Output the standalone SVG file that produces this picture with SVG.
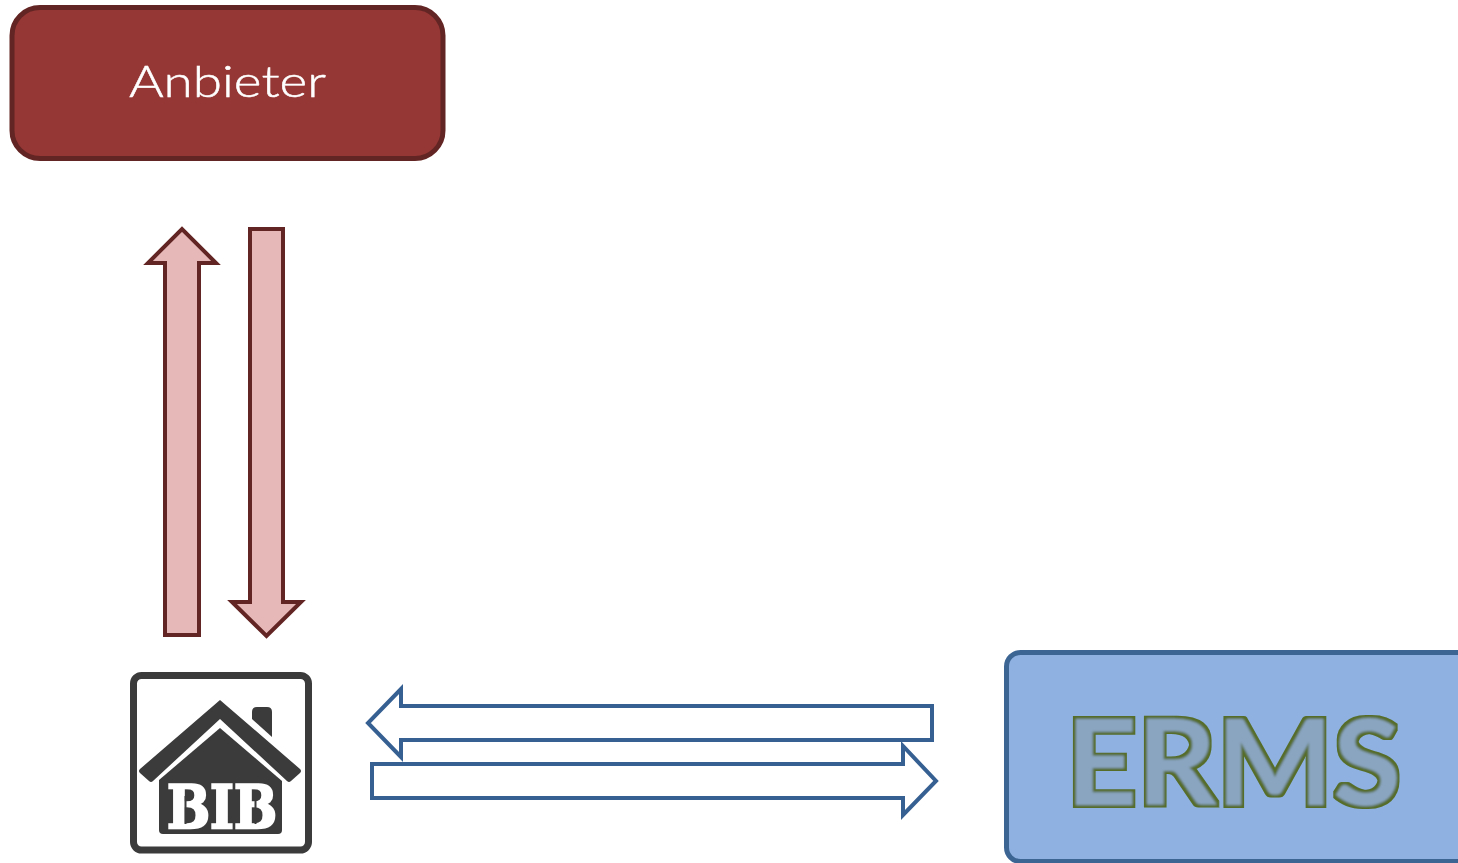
<svg xmlns="http://www.w3.org/2000/svg" width="1458" height="863" viewBox="0 0 1458 863">
<defs>
<style>
.red{fill:#e6b9b8;stroke:#632523;stroke-width:4}
.blue{fill:#fff;stroke:#376092;stroke-width:4}
.dark{fill:#3b3b3b}
</style>
<filter id="soft" x="-5%" y="-5%" width="110%" height="110%"><feGaussianBlur stdDeviation="0.5"/></filter>
<filter id="outline" x="-5%" y="-10%" width="110%" height="120%">
<feMorphology in="SourceAlpha" operator="dilate" radius="3" result="o"/>
<feGaussianBlur in="o" stdDeviation="0.7" result="ob"/>
<feFlood flood-color="#566d2b"/>
<feComposite in2="ob" operator="in" result="green"/>
<feGaussianBlur in="SourceAlpha" stdDeviation="0.900" result="ib"/>
<feFlood flood-color="#8aa5c0"/>
<feComposite in2="ib" operator="in" result="body"/>
<feMerge><feMergeNode in="green"/><feMergeNode in="body"/></feMerge>
</filter>
</defs>
<rect width="1458" height="863" fill="#fff"/>
<g id="anbieter">
<rect x="12" y="7.500" width="431" height="151" rx="28" fill="#953735" stroke="#632523" stroke-width="5"/>
<text x="129" y="97" font-family="Lato, Liberation Sans, sans-serif" font-weight="300" font-size="44" fill="#fff" stroke="#fff" stroke-width="0.500" textLength="197" lengthAdjust="spacingAndGlyphs">Anbieter</text>
</g>
<g id="bib">
<rect x="133.500" y="675.500" width="175" height="174.500" rx="8" fill="#fff" stroke="#3b3b3b" stroke-width="7"/>
<g filter="url(#soft)">
<path class="dark" d="M252 712Q252 707 257 707H267Q272 707 272 712V737L252 719Z"/>
<path class="dark" d="M220 700L300 769Q302 771 300 773L291 781Q289 783 287 781L220 719L153 781Q151 783 149 781L140 773Q138 771 140 769Z"/>
<path class="dark" d="M220 728L282 781V830Q282 834 278 834H163Q159 834 159 830V780Z"/>
<text x="167" y="828" font-family="DejaVu Serif, serif" font-weight="700" font-size="60" fill="#fff" stroke="#fff" stroke-width="2.500" textLength="110" lengthAdjust="spacingAndGlyphs">BIB</text>
<rect x="184.500" y="796" width="2" height="28" class="dark"/>
<rect x="254.500" y="796" width="2" height="28" class="dark"/>
</g>
</g>
<g id="erms">
<rect x="1006.500" y="652.500" width="470" height="209" rx="14" fill="#8eb1e1" stroke="#3d6594" stroke-width="5"/>
<text x="1066" y="805" filter="url(#outline)" font-family="Lato, Open Sans, sans-serif" font-weight="700" font-size="119" fill="#8aa5c0" textLength="335" lengthAdjust="spacingAndGlyphs">ERMS</text>
</g>
<g id="connectors">
<path class="red" d="M165 635V263H148L182 229L216 263H199V635Z"/>
<path class="red" d="M250 229H283V602H301L266.500 636L232 602H250Z"/>
<path class="blue" d="M932 706V740H401V757L368 723L401 689V706Z"/>
<path class="blue" d="M372 764H903V746L936 781L903 815V798H372Z"/>
</g>
</svg>
